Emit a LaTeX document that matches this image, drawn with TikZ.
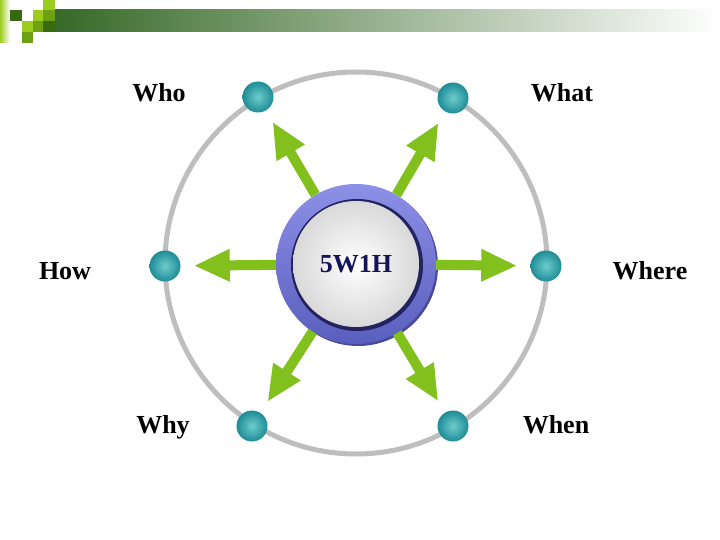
\documentclass[tikz,border=0pt]{standalone}
\usepackage{fontspec}
\setmainfont{Liberation Serif}
\usetikzlibrary{positioning,arrows.meta}

\definecolor{arrowgreen}{RGB}{130,192,30}
\definecolor{ringgray}{RGB}{190,190,190}
\definecolor{ballin}{RGB}{110,205,205}
\definecolor{ballout}{RGB}{30,140,150}
\definecolor{hubtop}{RGB}{140,144,230}
\definecolor{hubbot}{RGB}{90,94,190}
\definecolor{hubdark}{RGB}{35,35,95}
\definecolor{hubtext}{RGB}{20,20,90}
\definecolor{bardark}{RGB}{55,105,40}
\definecolor{sqdark}{RGB}{55,105,15}
\definecolor{sqmid}{RGB}{110,160,20}
\definecolor{sqlight}{RGB}{155,205,30}

\tikzset{
  ball/.style={circle, minimum size=31pt, inner sep=0pt, shading=radial, inner color=ballin, outer color=ballout},
  word/.style={anchor=base, font=\bfseries\fontsize{26}{30}\selectfont},
  hub/.style={circle, minimum size=160pt, inner sep=0pt, text=hubtext, font=\bfseries\fontsize{26}{30}\selectfont},
  spoke/.style={-{Triangle[length=36pt,width=30pt]}, line width=10pt, draw=arrowgreen, shorten >=13pt},
}

\begin{document}
\begin{tikzpicture}[x=1pt,y=-1pt]
	\useasboundingbox (0,0) rectangle (720,540);
	% banner
	\shade[left color=bardark, right color=white] (55,10) rectangle (720,32);
	\shade[left color=sqlight, right color=white] (0,0) rectangle (10,43);
	\fill[sqdark] (10,10) rectangle (22,21);
	\fill[sqlight] (33,10) rectangle (43,21);
	\fill[sqlight] (43,0) rectangle (55,10);
	\fill[sqmid] (43,10) rectangle (55,21);
	\fill[sqlight] (22,21) rectangle (33,32);
	\fill[sqmid] (33,21) rectangle (43,32);
	\fill[sqdark] (43,21) rectangle (55,32);
	\fill[sqmid] (22,32) rectangle (33,43);
	% outer ring
	\draw[ringgray, line width=5pt] (356,263) circle[radius=191];
	% hub
	\fill[hubbot!80!black] (358,266) circle[radius=80];
	\shade[top color=hubtop, bottom color=hubbot] (356,264) circle[radius=80];
	\fill[hubdark] (357,265) circle[radius=66];
	\shade[inner color=white, outer color=gray!30] (356,264) circle[radius=63];
	\node[hub] (hub) at (356,264) {5W1H};
	% dots
	\node[ball] (who) at (258,97) {};
	\node[ball] (what) at (453,98) {};
	\node[ball] (how) at (165,266) {};
	\node[ball] (where) at (546,266) {};
	\node[ball] (why) at (252,426) {};
	\node[ball] (when) at (453,426) {};
	% arrows
	\foreach \nm in {who,what,how,where,why,when}
		\draw[spoke] (hub) -- (\nm);
	% labels
	\node[word] (whoL) at (159,102) {Who};
	\node[word] (whatL) at (562,102) {What};
	\node[word] (howL) at (65,279) {How};
	\node[word] (whereL) at (650,279) {Where};
	\node[word] (whyL) at (163,433) {Why};
	\node[word] (whenL) at (556,433) {When};
\end{tikzpicture}
\end{document}
